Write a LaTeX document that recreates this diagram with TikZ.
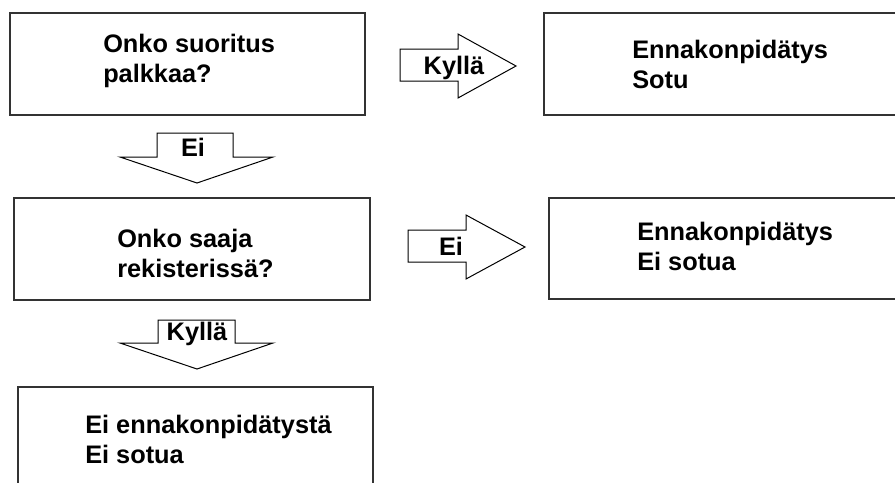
\documentclass[tikz,border=0pt]{standalone}
\usepackage{fontspec}
\setmainfont{Liberation Sans}
\definecolor{boxgray}{HTML}{333333}
\begin{document}
\begin{tikzpicture}[x=0.75pt,y=-0.75pt,
  box/.style={draw=boxgray, line width=1.5pt, rectangle, inner sep=0pt, fill=white},
  txt/.style={font=\fontsize{19}{22.5}\selectfont\bfseries, align=left, anchor=west, inner sep=0pt},
  blk/.style={draw=black, line width=0.75pt, fill=white, line join=miter},
  lab/.style={font=\fontsize{19}{22}\selectfont\bfseries, inner sep=0pt, anchor=base}]
\useasboundingbox (0,0) rectangle (895,482);
\clip (0,0) rectangle (895,482);
\fill[white] (0,0) rectangle (895,482);

% boxes
\node[box, minimum width=266.25pt, minimum height=76.5pt] (b1) at (187.5,64) {};
\node[box, minimum width=264.75pt, minimum height=76.5pt] (b2) at (720.5,64) {};
\node[box, minimum width=267pt, minimum height=76.5pt] (b3) at (192,249) {};
\node[box, minimum width=261pt, minimum height=75.75pt] (b4) at (723,248.5) {};
\node[box, minimum width=266.25pt, minimum height=72.75pt] (b5) at (195.5,435.5) {};

% texts
\node[txt] (t1) at (103,61) {Onko suoritus\\palkkaa?};
\node[txt] (t2) at (632,64) {Ennakonpidätys\\Sotu};
\node[txt] (t3) at (117,253) {Onko saaja\\rekisterissä?};
\node[txt] (t4) at (637,246) {Ennakonpidätys\\Ei sotua};
\node[txt] (t5) at (85,439) {Ei ennakonpidätystä\\Ei sotua};

% block arrows
\draw[blk] (400,49) -- (458,49) -- (458,34) -- (516,66) -- (458,98) -- (458,81) -- (400,81) -- cycle;
\node[lab] (a1) at (454,74) {Kyllä};

\draw[blk] (408,230) -- (466,230) -- (466,215) -- (525,247) -- (466,279) -- (466,262) -- (408,262) -- cycle;
\node[lab] (a2) at (451,255) {Ei};

\draw[blk] (157,133) -- (233,133) -- (233,157) -- (273,157) -- (197,183) -- (120,157) -- (157,157) -- cycle;
\node[lab] (a3) at (193,156) {Ei};

\draw[blk] (158,320) -- (235,320) -- (235,343) -- (273,343) -- (197,369) -- (120,343) -- (158,343) -- cycle;
\node[lab] (a4) at (197,340) {Kyllä};
\end{tikzpicture}
\end{document}
